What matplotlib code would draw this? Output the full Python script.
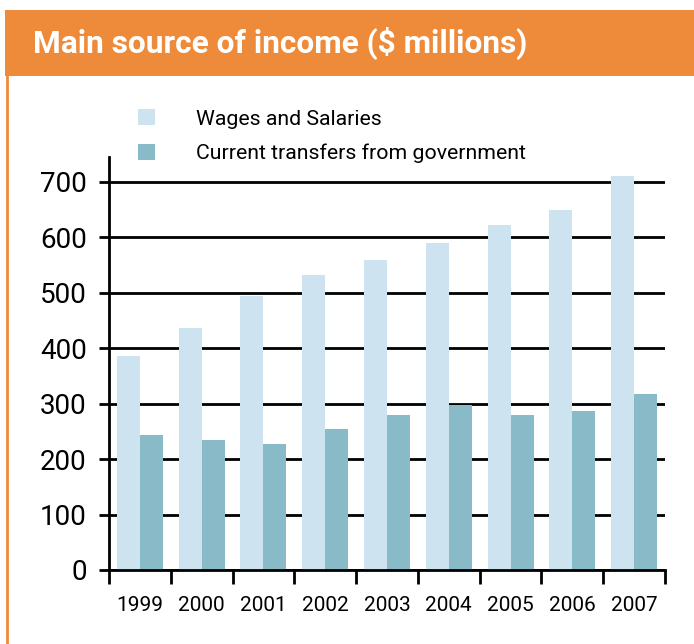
import matplotlib
matplotlib.use("Agg")
import matplotlib.pyplot as plt
from matplotlib.patches import Rectangle
from matplotlib.lines import Line2D
import numpy as np

years = ["1999", "2000", "2001", "2002", "2003", "2004", "2005", "2006", "2007"]
wages = [386, 437, 495, 532, 559, 590, 622, 650, 711]
transfers = [244, 235, 227, 254, 280, 298, 280, 287, 318]
series_names = ["Wages and Salaries", "Current transfers from government"]
y_ticks = [0, 100, 200, 300, 400, 500, 600, 700]

ORANGE = "#EE8B3A"
LIGHT = "#CDE4F0"
DARK = "#88BAC8"

plt.rcParams["font.family"] = ["Roboto", "DejaVu Sans"]

W, H = 694, 644
fig = plt.figure(figsize=(W / 100, H / 100), dpi=100)

# orange banner + left rule
fig.add_artist(Rectangle((5 / W, 1 - 76 / H), 1, 66 / H, transform=fig.transFigure,
                         facecolor=ORANGE, edgecolor="none"))
fig.add_artist(Line2D([7 / W, 7 / W], [0, 1 - 76 / H], transform=fig.transFigure,
                      color=ORANGE, linewidth=2))
fig.text(33 / W, 1 - 43 / H, "Main source of income ($ millions)", color="white",
         fontsize=22.8, fontweight="bold", va="center", ha="left")

ax = fig.add_axes([109 / W, 1 - 570 / H, (665 - 109) / W, (570 - 157) / H])

x = np.arange(len(years)) + 0.5
bw = 0.372
b1 = ax.bar(x - bw / 2, wages, bw, color=LIGHT, zorder=3, label=series_names[0])
b2 = ax.bar(x + bw / 2, transfers, bw, color=DARK, zorder=3, label=series_names[1])

ax.set_xlim(0, len(years))
ax.set_ylim(0, 745)

for spine in ["top", "right"]:
    ax.spines[spine].set_visible(False)
for spine in ["left", "bottom"]:
    ax.spines[spine].set_linewidth(2)
    ax.spines[spine].set_zorder(4)

ax.set_yticks(y_ticks)
ax.tick_params(axis="y", direction="out", length=7, width=2, labelsize=20, pad=9)
ax.yaxis.grid(True, color="black", linewidth=2, zorder=1)

# ticks between groups, labels centred under each pair
ax.set_xticks(np.arange(len(years) + 1))
ax.set_xticklabels([])
ax.set_xticks(x, minor=True)
ax.set_xticklabels(years, minor=True)
ax.tick_params(axis="x", which="major", direction="out", length=10, width=2)
ax.tick_params(axis="x", which="minor", length=0, labelsize=15, pad=19)

ax.legend(handles=[b1, b2], loc="upper left", bbox_to_anchor=(138 / W, 1 - 109 / H),
          bbox_transform=fig.transFigure, frameon=False, fontsize=15.3,
          handlelength=0.8, handleheight=0.8, handletextpad=1.95, labelspacing=0.72,
          borderpad=0, borderaxespad=0)

fig.savefig("out.png", dpi=100)
